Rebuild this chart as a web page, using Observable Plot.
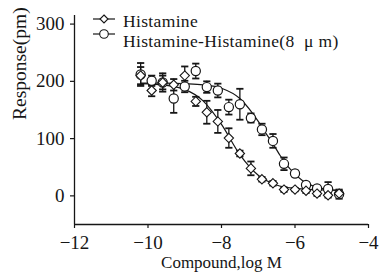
<!DOCTYPE html>
<html>
<head>
<meta charset="utf-8">
<script src="https://cdn.jsdelivr.net/npm/d3@7"></script>
<script src="https://cdn.jsdelivr.net/npm/@observablehq/plot@0.6"></script>
<style>
  html, body { margin: 0; padding: 0; background: #fff; }
  #wrap { position: relative; width: 379px; height: 276px; }
  #legend { position: absolute; left: 0; top: 0; pointer-events: none; }
</style>
</head>
<body>
<div id="wrap"></div>
<script>
// ---- data ----
const logConc = [-10.2, -9.9, -9.6, -9.3, -9.0, -8.7, -8.4, -8.1, -7.8, -7.5, -7.2, -6.9, -6.6, -6.3, -6.0, -5.7, -5.4, -5.1, -4.8];

const histamine    = [210, 184, 198, 194, 210, 165, 146, 130, 101, 74, 48, 29, 22, 11, 11, 9, 4, 1, 4];
const histamineErr = [15, 10, 12, 10, 16, 8, 20, 20, 17, 5, 12, 4, 4, 4, 3, 4, 4, 4, 5];

const histHist     = [212, 201, 198, 170, 191, 218, 190, 184, 155, 160, 136, 116, 96, 56, 39, 19, 13, 12, 3];
const histHistErr  = [20, 9, 16, 25, 10, 13, 10, 12, 13, 27, 8, 10, 12, 11, 5, 4, 4, 12, 8];

// fitted curves
const fitHistX = [-10.2, -9.5, -9.0, -8.5, -8.0, -7.5, -7.0, -6.5, -6.0, -5.5, -4.8];
const fitHistY = [196, 193, 186, 166, 125, 72, 36, 19, 13, 11, 10];
const fitHHX = [-10.2, -9.5, -9.0, -8.5, -8.0, -7.5, -7.2, -7.0, -6.8, -6.6, -6.4, -6.2, -6.0, -5.8, -5.5, -5.2, -4.8];
const fitHHY = [197, 197, 196, 194, 188, 170, 148, 130, 110, 91, 70, 52, 38, 27, 17, 12, 9];

const xTicks = [-12, -10, -8, -6, -4];
const yTicks = [0, 100, 200, 300];
const xLabel = "Compound,log M";
const yLabel = "Response(pm)";
const seriesNames = ["Histamine", "Histamine-Histamine(8  \u03bc m)"];

// ---- build tables ----
const ptsHist = logConc.map((x, i) => ({x, y: histamine[i], e: histamineErr[i]}));
const ptsHH = logConc.map((x, i) => ({x, y: histHist[i], e: histHistErr[i]}));
const curveHist = fitHistX.map((x, i) => ({x, y: fitHistY[i]}));
const curveHH = fitHHX.map((x, i) => ({x, y: fitHHY[i]}));

const serif = "Liberation Serif";
const ink = "#161616";
const fmt = d => (d < 0 ? "\u2212" + Math.abs(d) : String(d));

const cap = {
  draw(context, size) {
    const w = Math.sqrt(size / Math.PI);
    context.moveTo(-w, 0);
    context.lineTo(w, 0);
  }
};

function errMarks(pts) {
  return [
    Plot.ruleX(pts, {x: "x", y1: d => d.y - d.e, y2: d => d.y + d.e, stroke: ink, strokeWidth: 1.3}),
    Plot.dot(pts, {x: "x", y: d => d.y + d.e, symbol: cap, r: 3.6, stroke: ink, strokeWidth: 1.8}),
    Plot.dot(pts, {x: "x", y: d => d.y - d.e, symbol: cap, r: 3.6, stroke: ink, strokeWidth: 1.8})
  ];
}

const chart = Plot.plot({
  width: 379,
  height: 276,
  marginLeft: 74,
  marginRight: 11,
  marginTop: 15,
  marginBottom: 52,
  style: {fontFamily: serif, fontSize: "19px", color: ink, background: "#fff"},
  x: {domain: [-12, -4]},
  y: {domain: [-50, 315]},
  marks: [
    Plot.axisX({ticks: xTicks, tickSize: 4, label: null, tickFormat: () => "", strokeWidth: 1.2}),
    Plot.axisY({ticks: yTicks, tickSize: 4, label: null, tickFormat: () => "", strokeWidth: 1.2}),
    Plot.text(xTicks, {x: d => d, text: fmt, frameAnchor: "bottom", dy: 10.5, lineAnchor: "top", fontSize: 19, fontFamily: serif, fill: ink}),
    Plot.text(yTicks, {y: d => d, text: fmt, frameAnchor: "left", dx: -10, textAnchor: "end", lineAnchor: "middle", fontSize: 19, fontFamily: serif, fill: ink}),
    Plot.ruleX([-12], {stroke: ink, strokeWidth: 1.3}),
    Plot.ruleY([-50], {stroke: ink, strokeWidth: 1.3}),
    Plot.line(curveHist, {x: "x", y: "y", curve: "monotone-x", stroke: ink, strokeWidth: 1.2}),
    Plot.line(curveHH, {x: "x", y: "y", curve: "monotone-x", stroke: ink, strokeWidth: 1.2}),
    ...errMarks(ptsHH),
    ...errMarks(ptsHist),
    Plot.dot(ptsHH, {x: "x", y: "y", symbol: "circle", r: 4.6, fill: "white", stroke: ink, strokeWidth: 1.2}),
    Plot.dot(ptsHist, {x: "x", y: "y", symbol: "diamond2", r: 4.2, fill: "white", stroke: ink, strokeWidth: 1.1}),
    Plot.text([xLabel], {frameAnchor: "bottom", dy: 38, fontSize: 17, fontFamily: serif, lineAnchor: "middle", fill: ink}),
    Plot.text([yLabel], {frameAnchor: "left", dx: -55, rotate: -90, fontSize: 19.5, fontFamily: serif, lineAnchor: "middle", fill: ink})
  ]
});

const wrap = document.getElementById("wrap");
wrap.appendChild(chart);

// legend overlay (inside the plot area, as in the reference)
const ns = "http://www.w3.org/2000/svg";
const leg = document.createElementNS(ns, "svg");
leg.setAttribute("id", "legend");
leg.setAttribute("width", 379);
leg.setAttribute("height", 60);
const rows = [{cy: 19, ty: 27, sym: "diamond"}, {cy: 34, ty: 46.5, sym: "circle"}];
rows.forEach((r, i) => {
  const ln = document.createElementNS(ns, "line");
  ln.setAttribute("x1", 93); ln.setAttribute("x2", 115);
  ln.setAttribute("y1", r.cy); ln.setAttribute("y2", r.cy);
  ln.setAttribute("stroke", ink); ln.setAttribute("stroke-width", 1.2);
  leg.appendChild(ln);
  let m;
  if (r.sym === "circle") {
    m = document.createElementNS(ns, "circle");
    m.setAttribute("cx", 104); m.setAttribute("cy", r.cy); m.setAttribute("r", 4.3);
  } else {
    m = document.createElementNS(ns, "path");
    m.setAttribute("d", `M104,${r.cy - 4}L108,${r.cy}L104,${r.cy + 4}L100,${r.cy}Z`);
  }
  m.setAttribute("fill", "white"); m.setAttribute("stroke", ink); m.setAttribute("stroke-width", 1.1);
  leg.appendChild(m);
  const t = document.createElementNS(ns, "text");
  t.setAttribute("x", 123); t.setAttribute("y", r.ty);
  t.setAttribute("font-family", serif);
  t.setAttribute("font-size", 17.5);
  t.setAttribute("letter-spacing", 0.35);
  t.setAttribute("fill", ink);
  t.setAttribute("xml:space", "preserve");
  t.style.whiteSpace = "pre";
  t.textContent = seriesNames[i];
  leg.appendChild(t);
});
wrap.appendChild(leg);
</script>
</body>
</html>
